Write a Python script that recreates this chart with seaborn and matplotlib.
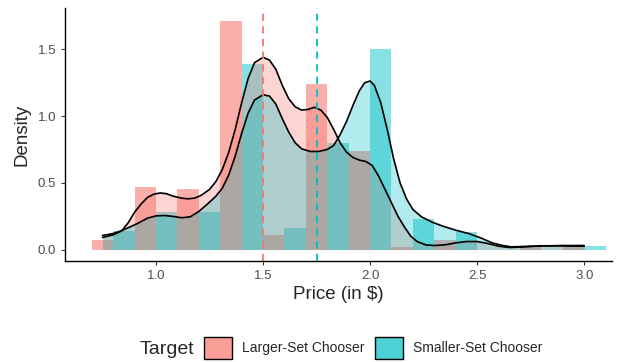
import numpy as np
import pandas as pd
import matplotlib
matplotlib.use("Agg")
import matplotlib.pyplot as plt
from matplotlib.patches import Patch
from matplotlib.ticker import FormatStrFormatter
import seaborn as sns

# histogram bins (width 0.2, dodged: Larger-Set left half, Smaller-Set right half)
bin_edges = [0.7, 0.9, 1.1, 1.3, 1.5, 1.7, 1.9, 2.1, 2.3, 2.5, 2.7, 2.9, 3.1]
bin_centers = [0.8, 1.0, 1.2, 1.4, 1.6, 1.8, 2.0, 2.2, 2.4, 2.6, 2.8, 3.0]
larger_density = [0.07, 0.47, 0.45, 1.71, 0.11, 1.24, 0.735, 0.02, 0.07, 0.0, 0.03, 0.03]
smaller_density = [0.137, 0.28, 0.28, 1.39, 0.16, 0.80, 1.50, 0.232, 0.13, 0.0, 0.0, 0.025]

# kernel density curves
larger_kde_x = [0.75, 0.80, 0.84, 0.87, 0.90, 0.93, 0.96, 0.99, 1.02, 1.05, 1.08, 1.12,
                1.15, 1.18, 1.21, 1.25, 1.28, 1.31, 1.34, 1.37, 1.40, 1.43, 1.46, 1.50,
                1.53, 1.56, 1.59, 1.62, 1.65, 1.68, 1.71, 1.74, 1.77, 1.80, 1.83, 1.86,
                1.89, 1.92, 1.95, 1.98, 2.01, 2.04, 2.07, 2.10, 2.13, 2.16, 2.19, 2.22,
                2.26, 2.30, 2.35, 2.40, 2.45, 2.50, 2.55, 2.60, 2.65, 2.70, 2.80, 2.90, 3.00]
larger_kde_y = [0.09, 0.11, 0.14, 0.20, 0.28, 0.34, 0.39, 0.415, 0.424, 0.418, 0.40, 0.385,
                0.38, 0.385, 0.405, 0.45, 0.51, 0.60, 0.73, 0.90, 1.10, 1.28, 1.40, 1.44,
                1.42, 1.35, 1.23, 1.13, 1.07, 1.045, 1.05, 1.066, 1.045, 0.99, 0.90, 0.80,
                0.73, 0.69, 0.67, 0.66, 0.63, 0.55, 0.45, 0.35, 0.25, 0.17, 0.10, 0.06,
                0.035, 0.03, 0.035, 0.05, 0.06, 0.06, 0.045, 0.025, 0.015, 0.018, 0.028, 0.027, 0.025]
smaller_kde_x = [0.75, 0.80, 0.84, 0.88, 0.92, 0.96, 1.00, 1.04, 1.08, 1.12, 1.16, 1.20,
                 1.24, 1.28, 1.31, 1.34, 1.37, 1.40, 1.43, 1.46, 1.50, 1.53, 1.56, 1.59,
                 1.62, 1.65, 1.68, 1.72, 1.76, 1.80, 1.83, 1.86, 1.89, 1.92, 1.95, 1.975,
                 2.00, 2.02, 2.05, 2.08, 2.11, 2.14, 2.17, 2.20, 2.24, 2.29, 2.34, 2.40,
                 2.46, 2.52, 2.57, 2.62, 2.66, 2.76, 2.90, 3.00]
smaller_kde_y = [0.105, 0.12, 0.142, 0.17, 0.20, 0.235, 0.252, 0.255, 0.248, 0.238, 0.245, 0.285,
                 0.34, 0.40, 0.46, 0.56, 0.70, 0.87, 1.02, 1.12, 1.16, 1.15, 1.09, 0.98,
                 0.88, 0.80, 0.755, 0.735, 0.735, 0.75, 0.78, 0.86, 0.96, 1.08, 1.19, 1.25,
                 1.263, 1.23, 1.10, 0.90, 0.68, 0.50, 0.38, 0.30, 0.245, 0.205, 0.175, 0.145,
                 0.12, 0.085, 0.05, 0.03, 0.02, 0.025, 0.03, 0.03]

# group means (dashed lines)
groups = ["Larger-Set Chooser", "Smaller-Set Chooser"]
group_means = [1.5, 1.75]
colors = {"Larger-Set Chooser": "#F8766D", "Smaller-Set Chooser": "#00BFC4"}
bar_alpha = {"Larger-Set Chooser": 0.58, "Smaller-Set Chooser": 0.47}

hist_df = pd.DataFrame({
    "price": bin_centers + bin_centers,
    "density": larger_density + smaller_density,
    "Target": [groups[0]] * len(bin_centers) + [groups[1]] * len(bin_centers),
})

sns.set_style("ticks")
plt.rcParams["font.family"] = ["Liberation Sans", "DejaVu Sans"]

fig = plt.figure(figsize=(6.21, 3.62), dpi=100)
ax = fig.add_axes([65 / 621, 1 - 261 / 362, (612 - 65) / 621, (261 - 8) / 362])

sns.histplot(data=hist_df, x="price", weights="density", hue="Target",
             hue_order=groups, palette=colors, bins=bin_edges, multiple="dodge",
             shrink=1, alpha=1, linewidth=0, stat="count", legend=False, ax=ax)
# per-group transparency, as in the original
for patch in ax.patches:
    fc = patch.get_facecolor()
    g = groups[0] if fc[0] > 0.5 else groups[1]
    patch.set_alpha(bar_alpha[g])

ax.fill_between(larger_kde_x, larger_kde_y, color=colors[groups[0]], alpha=0.3, linewidth=0)
ax.fill_between(smaller_kde_x, smaller_kde_y, color=colors[groups[1]], alpha=0.3, linewidth=0)
sns.lineplot(x=larger_kde_x, y=larger_kde_y, color="black", linewidth=1.2,
             sort=False, estimator=None, ax=ax)
sns.lineplot(x=smaller_kde_x, y=smaller_kde_y, color="black", linewidth=1.2,
             sort=False, estimator=None, ax=ax)

for g, m in zip(groups, group_means):
    ax.axvline(m, color=colors[g], linestyle=(0, (4, 3)), linewidth=1.3)

ax.set_xlim(0.575, 3.13)
ax.set_ylim(-0.086, 1.81)
ax.set_xticks([1.0, 1.5, 2.0, 2.5, 3.0])
ax.set_yticks([0.0, 0.5, 1.0, 1.5])
ax.xaxis.set_major_formatter(FormatStrFormatter("%.1f"))
ax.yaxis.set_major_formatter(FormatStrFormatter("%.1f"))
ax.tick_params(axis="both", labelsize=9.5, labelcolor="#4D4D4D", length=3, width=0.8, color="#333333")
ax.set_xlabel("Price (in $)", fontsize=13.5, labelpad=3)
ax.set_ylabel("Density", fontsize=13.5, labelpad=5)
sns.despine(ax=ax)
for s in ["left", "bottom"]:
    ax.spines[s].set_linewidth(1.0)
    ax.spines[s].set_color("black")

handles = [Patch(facecolor=matplotlib.colors.to_rgba(colors[g], 0.7), edgecolor="black", linewidth=1.0)
           for g in groups]
fig.text(140 / 621, 1 - 349 / 362, "Target", fontsize=14, va="center", ha="left")
fig.legend(handles, groups, loc="center left", bbox_to_anchor=(204 / 621, 1 - 348 / 362),
           ncol=2, frameon=False, fontsize=10, handlelength=2.0, handleheight=2.0,
           handletextpad=0.7, columnspacing=0.8, borderaxespad=0, borderpad=0)

fig.savefig("out.png", dpi=100)
